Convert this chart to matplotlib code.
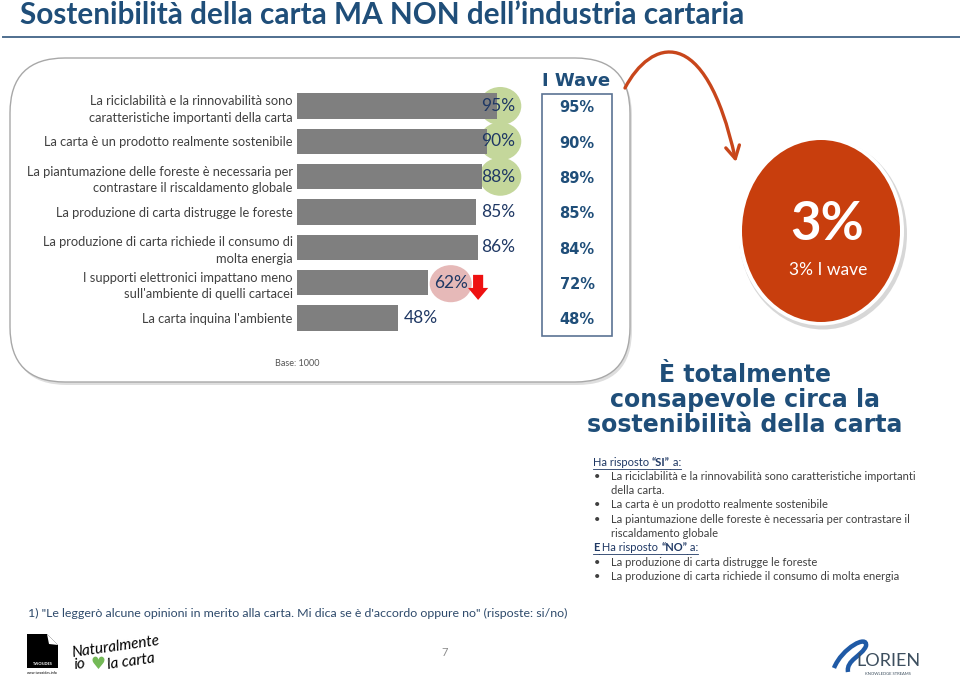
import numpy as np
import matplotlib
matplotlib.use("Agg")
import matplotlib.pyplot as plt
from matplotlib.patches import FancyBboxPatch, Ellipse, Rectangle, Polygon, FancyArrowPatch, PathPatch
from matplotlib.path import Path

plt.rcParams['font.family'] = ['Lato', 'DejaVu Sans']

# data
categories = [
    "La riciclabilità e la rinnovabilità sono\ncaratteristiche importanti della carta",
    "La carta è un prodotto realmente sostenibile",
    "La piantumazione delle foreste è necessaria per\ncontrastare il riscaldamento globale",
    "La produzione di carta distrugge le foreste",
    "La produzione di carta richiede il consumo di\nmolta energia",
    "I supporti elettronici impattano meno\nsull'ambiente di quelli cartacei",
    "La carta inquina l'ambiente",
]
values = [95, 90, 88, 85, 86, 62, 48]
wave1 = [95, 90, 89, 85, 84, 72, 48]
green_rows = [0, 1, 2]
drop_rows = [5]
wave1_title = "I Wave"
base_note = "Base: 1000"
share_big = "3%"
share_wave = "3% I wave"

title = "Sostenibilità della carta MA NON dell\u2019industria cartaria"
heading = "È totalmente\nconsapevole circa la\nsostenibilità della carta"
si_items = ["La riciclabilità e la rinnovabilità sono caratteristiche importanti\ndella carta.",
            "La carta è un prodotto realmente sostenibile",
            "La piantumazione delle foreste è necessaria per contrastare il\nriscaldamento globale"]
no_items = ["La produzione di carta distrugge le foreste",
            "La produzione di carta richiede il consumo di molta energia"]
footnote = "1) \"Le leggerò alcune opinioni in merito alla carta. Mi dica se è d'accordo oppure no\" (risposte: si/no)"

navy = '#1f3864'
blue = '#1f4e79'
W, H = 960, 682

fig = plt.figure(figsize=(W / 100, H / 100), dpi=100)
bg = fig.add_axes([0, 0, 1, 1])
bg.set_xlim(0, W)
bg.set_ylim(H, 0)
bg.axis('off')

# title + rule
bg.text(20, 15, title, fontsize=21.4, fontweight='bold', color=blue, va='center', ha='left')
bg.plot([3, 960], [37, 37], color='#4f6f8f', lw=1.4)

# rounded panel
bg.add_patch(FancyBboxPatch((12, 61), 620, 324, boxstyle="round,pad=0,rounding_size=55",
                            fc='#dedede', ec='none', zorder=1))
bg.add_patch(FancyBboxPatch((10, 58), 620, 324, boxstyle="round,pad=0,rounding_size=55",
                            fc='white', ec='#a8a8a8', lw=1, zorder=2))
bg.text(297, 363, base_note, fontsize=6.5, color='#555555', ha='center', va='center', zorder=3)

# I wave column frame
bg.text(576, 81, wave1_title, fontsize=13, fontweight='bold', color=blue, ha='center', va='center',
        family='DejaVu Sans', zorder=3)
bg.add_patch(Rectangle((542, 94), 70, 242, fc='none', ec='#5b7393', lw=1.2, zorder=3))

# bar chart
x0, px_per = 297, 2.106
top, bottom = 88.4, 335.6
ax = fig.add_axes([x0 / W, 1 - bottom / H, 160 * px_per / W, (bottom - top) / H])
ax.patch.set_alpha(0)
rows = np.arange(len(values))
ax.barh(rows, values, height=0.72, color='#7f7f7f', zorder=2)
ax.set_xlim(0, 160)
ax.set_ylim(len(values) - 0.5, -0.5)
for s in ax.spines.values():
    s.set_visible(False)
ax.set_xticks([])
ax.set_yticks(rows)
ax.set_yticklabels(categories, fontsize=9.3, color='#404040', linespacing=1.45)
ax.tick_params(axis='y', length=0, pad=3)

lab_x = [v + 11 if v < 80 else 95.5 for v in values]
for i, v in enumerate(values):
    if i in green_rows:
        ax.add_patch(Ellipse((lab_x[i] + 1, i), 20, 1.08, fc='#c4d79b', ec='none', zorder=1, clip_on=False))
    if i in drop_rows:
        ax.add_patch(Ellipse((lab_x[i], i + 0.03), 20, 1.05, fc='#e6b9b8', ec='none', zorder=1, clip_on=False))
        ax_ = v + 24
        ax.add_patch(Polygon([(ax_ - 2.4, i - 0.22), (ax_ + 2.4, i - 0.22), (ax_ + 2.4, i + 0.15),
                              (ax_ + 4.8, i + 0.15), (ax_, i + 0.49), (ax_ - 4.8, i + 0.15),
                              (ax_ - 2.4, i + 0.15)], closed=True, fc='#ee1111', ec='none', zorder=3,
                             clip_on=False))
    ax.text(lab_x[i], i, f"{v}%", ha='center', va='center', fontsize=12.5, color=navy, zorder=4)
    ax.text(133, i + 0.05, f"{wave1[i]}%", ha='center', va='center', fontsize=10.5, fontweight='bold',
            color=blue, family='DejaVu Sans', zorder=4)

# curved arrow to the red bubble
arc = Path([(625, 88), (650, 40), (705, 20), (736, 162)],
           [Path.MOVETO, Path.CURVE4, Path.CURVE4, Path.CURVE4])
bg.add_patch(FancyArrowPatch(path=arc, arrowstyle='->,head_length=9,head_width=5',
                             color='#c8461b', lw=2.4, zorder=5))

# red bubble
cx, cy = 821, 231
bg.add_patch(Ellipse((cx + 2, cy + 3), 168, 191, fc='#bdbdbd', ec='none', alpha=0.6, zorder=4))
bg.add_patch(Ellipse((cx, cy), 166, 189, fc='white', ec='none', zorder=5))
bg.add_patch(Ellipse((cx, cy), 158, 182, fc='#c83e0d', ec='none', zorder=6))
bg.text(827, 224, share_big, fontsize=38, fontweight='bold', color='white', ha='center', va='center', zorder=7)
bg.text(828, 270, share_wave, fontsize=12.5, color='white', ha='center', va='center', zorder=7)

# right-hand text block
bg.text(745, 400, heading, fontsize=17, fontweight='bold', color=blue, ha='center', va='center',
        family='DejaVu Sans', linespacing=1.05, zorder=3)

fs = 8.0
lh = 14.3


def line_block(ystart, head_parts, items):
    xx = 593
    for txt, bold in head_parts:
        tt = bg.text(xx, ystart, txt, fontsize=fs, color=navy, va='center',
                     fontweight='bold' if bold else 'normal')
        fig.canvas.draw()
        bb = tt.get_window_extent()
        bg.plot([xx, xx + bb.width], [ystart + 6.5, ystart + 6.5], color=navy, lw=0.6)
        xx += bb.width
    yy = ystart + lh
    for it in items:
        bg.text(597, yy, "\u2022", fontsize=fs, color='#404040', va='center', ha='center')
        for ln in it.split("\n"):
            bg.text(611, yy, ln, fontsize=fs, color='#404040', va='center')
            yy += lh
    return yy


yn = line_block(462, [("Ha risposto ", False), ("\u201cSI\u201d", True), (" a:", False)], si_items)
line_block(yn, [("E", True), (" Ha risposto ", False), ("\u201cNO\u201d", True), (" a:", False)], no_items)

# footnote and page number
bg.text(28, 613, footnote, fontsize=8.9, color='#2e4a6b', va='center')
bg.text(445, 652, "7", fontsize=8, color='#8c8c8c', ha='center', va='center')

# left logo (approximation)
bg.add_patch(Polygon([(27, 634), (47, 634), (58, 645), (58, 668), (27, 668)], closed=True, fc='black', ec='none'))
bg.add_patch(Polygon([(47, 634), (58, 645), (49, 644)], closed=True, fc='white', ec='none'))
bg.text(42.5, 664, "TWOSIDES", fontsize=2.8, color='white', ha='center', va='center', fontweight='bold')
bg.text(42.5, 673, "www.twosides.info", fontsize=2.6, color='black', ha='center', va='center')
bg.text(71, 647, "Naturalmente", fontsize=11, style='italic', color='black', rotation=8, va='center')
bg.text(73, 664, "io", fontsize=11, style='italic', color='black', rotation=6, va='center')
bg.text(90, 664, "\u2665", fontsize=12, color='#74b957', va='center', family='DejaVu Sans')
bg.text(106, 662, "la carta", fontsize=11, style='italic', color='black', rotation=8, va='center')

# right logo (approximation)
sw = Path([(834, 668), (842, 648), (868, 634), (866, 646), (862, 656), (846, 660), (848, 672)],
          [Path.MOVETO, Path.CURVE4, Path.CURVE4, Path.CURVE4, Path.CURVE4, Path.CURVE4, Path.CURVE4])
bg.add_patch(PathPatch(sw, fc='none', ec='#1f5aa6', lw=3.2))
bg.text(888, 661, "LORIEN", fontsize=13, color='#3d4f5f', ha='center', va='center')
bg.text(888, 674, "KNOWLEDGE STREAMS", fontsize=3, color='#3d4f5f', ha='center', va='center')

fig.savefig("out.png", dpi=100)
